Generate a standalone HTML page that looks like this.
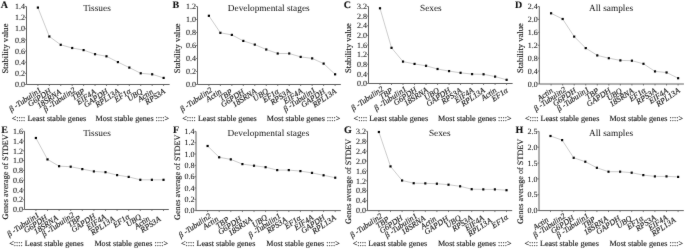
<!DOCTYPE html>
<html><head><meta charset="utf-8"><style>
html,body{margin:0;padding:0;background:#fff;}
svg{display:block;}
#w{width:685px;height:249px;will-change:transform;}
text{text-rendering:geometricPrecision;font-family:"Liberation Serif", serif;fill:#111;stroke:#111;stroke-width:0.12px;}
</style></head><body>
<div id="w"><svg width="685" height="249" viewBox="0 0 685 249" xmlns="http://www.w3.org/2000/svg">
<defs><filter id="bl" x="0" y="0" width="100%" height="100%" filterUnits="userSpaceOnUse"><feConvolveMatrix order="3" kernelMatrix="0.01 0.05 0.01 0.05 0.76 0.05 0.01 0.05 0.01" edgeMode="duplicate" preserveAlpha="false"/></filter></defs>
<rect width="685" height="249" fill="#fff"/>
<g filter="url(#bl)">
<path d="M26.5,6.5V84.5H169.6" fill="none" stroke="#606060" stroke-width="1"/>
<path d="M24.9,84.50H26.5" stroke="#606060" stroke-width="0.8"/>
<text x="25.00" y="87.20" text-anchor="end" font-size="8.0" style="stroke-width:0.06px">0.0</text>
<path d="M24.9,73.36H26.5" stroke="#606060" stroke-width="0.8"/>
<text x="25.00" y="76.06" text-anchor="end" font-size="8.0" style="stroke-width:0.06px">0.2</text>
<path d="M24.9,62.21H26.5" stroke="#606060" stroke-width="0.8"/>
<text x="25.00" y="64.91" text-anchor="end" font-size="8.0" style="stroke-width:0.06px">0.4</text>
<path d="M24.9,51.07H26.5" stroke="#606060" stroke-width="0.8"/>
<text x="25.00" y="53.77" text-anchor="end" font-size="8.0" style="stroke-width:0.06px">0.6</text>
<path d="M24.9,39.93H26.5" stroke="#606060" stroke-width="0.8"/>
<text x="25.00" y="42.63" text-anchor="end" font-size="8.0" style="stroke-width:0.06px">0.8</text>
<path d="M24.9,28.79H26.5" stroke="#606060" stroke-width="0.8"/>
<text x="25.00" y="31.49" text-anchor="end" font-size="8.0" style="stroke-width:0.06px">1.0</text>
<path d="M24.9,17.64H26.5" stroke="#606060" stroke-width="0.8"/>
<text x="25.00" y="20.34" text-anchor="end" font-size="8.0" style="stroke-width:0.06px">1.2</text>
<path d="M24.9,6.50H26.5" stroke="#606060" stroke-width="0.8"/>
<text x="25.00" y="9.20" text-anchor="end" font-size="8.0" style="stroke-width:0.06px">1.4</text>
<path d="M37.90,84.5V86.0" stroke="#606060" stroke-width="0.8"/>
<path d="M49.33,84.5V86.0" stroke="#606060" stroke-width="0.8"/>
<path d="M60.75,84.5V86.0" stroke="#606060" stroke-width="0.8"/>
<path d="M72.18,84.5V86.0" stroke="#606060" stroke-width="0.8"/>
<path d="M83.61,84.5V86.0" stroke="#606060" stroke-width="0.8"/>
<path d="M95.04,84.5V86.0" stroke="#606060" stroke-width="0.8"/>
<path d="M106.46,84.5V86.0" stroke="#606060" stroke-width="0.8"/>
<path d="M117.89,84.5V86.0" stroke="#606060" stroke-width="0.8"/>
<path d="M129.32,84.5V86.0" stroke="#606060" stroke-width="0.8"/>
<path d="M140.75,84.5V86.0" stroke="#606060" stroke-width="0.8"/>
<path d="M152.17,84.5V86.0" stroke="#606060" stroke-width="0.8"/>
<path d="M163.60,84.5V86.0" stroke="#606060" stroke-width="0.8"/>
<polyline points="37.90,7.6 49.33,36.5 60.75,44.8 72.18,48.0 83.61,50.1 95.04,54.2 106.46,56.3 117.89,62.1 129.32,67.6 140.75,73.3 152.17,74.3 163.60,77.9" fill="none" stroke="#aaa" stroke-width="0.6"/>
<rect x="36.80" y="6.50" width="2.2" height="2.2" fill="#000"/>
<rect x="48.23" y="35.40" width="2.2" height="2.2" fill="#000"/>
<rect x="59.65" y="43.70" width="2.2" height="2.2" fill="#000"/>
<rect x="71.08" y="46.90" width="2.2" height="2.2" fill="#000"/>
<rect x="82.51" y="49.00" width="2.2" height="2.2" fill="#000"/>
<rect x="93.94" y="53.10" width="2.2" height="2.2" fill="#000"/>
<rect x="105.36" y="55.20" width="2.2" height="2.2" fill="#000"/>
<rect x="116.79" y="61.00" width="2.2" height="2.2" fill="#000"/>
<rect x="128.22" y="66.50" width="2.2" height="2.2" fill="#000"/>
<rect x="139.65" y="72.20" width="2.2" height="2.2" fill="#000"/>
<rect x="151.07" y="73.20" width="2.2" height="2.2" fill="#000"/>
<rect x="162.50" y="76.80" width="2.2" height="2.2" fill="#000"/>
<text x="41.92" y="91.24" text-anchor="end" font-style="italic" font-size="8.0" style="stroke-width:0.12px" transform="rotate(-34 41.92 91.24)">β -Tubulin1</text>
<text x="51.85" y="92.25" text-anchor="end" font-style="italic" font-size="8.0" style="stroke-width:0.12px" transform="rotate(-34 51.85 92.25)">G6PDH</text>
<text x="61.77" y="93.27" text-anchor="end" font-style="italic" font-size="8.0" style="stroke-width:0.12px" transform="rotate(-34 61.77 93.27)">18SRNA</text>
<text x="76.20" y="91.24" text-anchor="end" font-style="italic" font-size="8.0" style="stroke-width:0.12px" transform="rotate(-34 76.20 91.24)">β -Tubulin2</text>
<text x="85.66" y="92.57" text-anchor="end" font-style="italic" font-size="8.0" style="stroke-width:0.12px" transform="rotate(-34 85.66 92.57)">TBP</text>
<text x="96.46" y="92.99" text-anchor="end" font-style="italic" font-size="8.0" style="stroke-width:0.12px" transform="rotate(-34 96.46 92.99)">EIF4A</text>
<text x="108.51" y="92.57" text-anchor="end" font-style="italic" font-size="8.0" style="stroke-width:0.12px" transform="rotate(-34 108.51 92.57)">GAPDH</text>
<text x="119.94" y="92.57" text-anchor="end" font-style="italic" font-size="8.0" style="stroke-width:0.12px" transform="rotate(-34 119.94 92.57)">RPL13A</text>
<text x="131.48" y="92.50" text-anchor="end" font-style="italic" font-size="8.0" style="stroke-width:0.12px" transform="rotate(-34 131.48 92.50)">EF1α</text>
<text x="143.03" y="92.41" text-anchor="end" font-style="italic" font-size="8.0" style="stroke-width:0.12px" transform="rotate(-34 143.03 92.41)">UBQ</text>
<text x="153.71" y="92.91" text-anchor="end" font-style="italic" font-size="8.0" style="stroke-width:0.12px" transform="rotate(-34 153.71 92.91)">Actin</text>
<text x="165.88" y="92.41" text-anchor="end" font-style="italic" font-size="8.0" style="stroke-width:0.12px" transform="rotate(-34 165.88 92.41)">RPS3A</text>
<text x="83.2" y="10.6" font-size="9.3" style="stroke-width:0.0px">Tissues</text>
<text x="0.7" y="8.4" font-size="10" font-weight="bold">A</text>
<text x="8.4" y="48.5" text-anchor="middle" font-size="8.6" transform="rotate(-90 8.4 48.5)">Stability value</text>
<text x="11.8" y="120.9" font-size="8.1">&lt;:::: Least stable genes</text>
<text x="95.6" y="120.9" font-size="8.1">Most stable genes ::::&gt;</text>
<path d="M197.5,6.5V84.5H340.8" fill="none" stroke="#606060" stroke-width="1"/>
<path d="M195.9,84.50H197.5" stroke="#606060" stroke-width="0.8"/>
<text x="196.00" y="87.20" text-anchor="end" font-size="8.0" style="stroke-width:0.06px">0.0</text>
<path d="M195.9,71.50H197.5" stroke="#606060" stroke-width="0.8"/>
<text x="196.00" y="74.20" text-anchor="end" font-size="8.0" style="stroke-width:0.06px">0.2</text>
<path d="M195.9,58.50H197.5" stroke="#606060" stroke-width="0.8"/>
<text x="196.00" y="61.20" text-anchor="end" font-size="8.0" style="stroke-width:0.06px">0.4</text>
<path d="M195.9,45.50H197.5" stroke="#606060" stroke-width="0.8"/>
<text x="196.00" y="48.20" text-anchor="end" font-size="8.0" style="stroke-width:0.06px">0.6</text>
<path d="M195.9,32.50H197.5" stroke="#606060" stroke-width="0.8"/>
<text x="196.00" y="35.20" text-anchor="end" font-size="8.0" style="stroke-width:0.06px">0.8</text>
<path d="M195.9,19.50H197.5" stroke="#606060" stroke-width="0.8"/>
<text x="196.00" y="22.20" text-anchor="end" font-size="8.0" style="stroke-width:0.06px">1.0</text>
<path d="M195.9,6.50H197.5" stroke="#606060" stroke-width="0.8"/>
<text x="196.00" y="9.20" text-anchor="end" font-size="8.0" style="stroke-width:0.06px">1.2</text>
<path d="M208.90,84.5V86.0" stroke="#606060" stroke-width="0.8"/>
<path d="M220.37,84.5V86.0" stroke="#606060" stroke-width="0.8"/>
<path d="M231.85,84.5V86.0" stroke="#606060" stroke-width="0.8"/>
<path d="M243.32,84.5V86.0" stroke="#606060" stroke-width="0.8"/>
<path d="M254.79,84.5V86.0" stroke="#606060" stroke-width="0.8"/>
<path d="M266.26,84.5V86.0" stroke="#606060" stroke-width="0.8"/>
<path d="M277.74,84.5V86.0" stroke="#606060" stroke-width="0.8"/>
<path d="M289.21,84.5V86.0" stroke="#606060" stroke-width="0.8"/>
<path d="M300.68,84.5V86.0" stroke="#606060" stroke-width="0.8"/>
<path d="M312.15,84.5V86.0" stroke="#606060" stroke-width="0.8"/>
<path d="M323.63,84.5V86.0" stroke="#606060" stroke-width="0.8"/>
<path d="M335.10,84.5V86.0" stroke="#606060" stroke-width="0.8"/>
<polyline points="208.90,15.8 220.37,32.8 231.85,34.9 243.32,40.9 254.79,44.6 266.26,49.5 277.74,53.5 289.21,53.5 300.68,56.9 312.15,58.4 323.63,63.6 335.10,74.3" fill="none" stroke="#aaa" stroke-width="0.6"/>
<rect x="207.80" y="14.70" width="2.2" height="2.2" fill="#000"/>
<rect x="219.27" y="31.70" width="2.2" height="2.2" fill="#000"/>
<rect x="230.75" y="33.80" width="2.2" height="2.2" fill="#000"/>
<rect x="242.22" y="39.80" width="2.2" height="2.2" fill="#000"/>
<rect x="253.69" y="43.50" width="2.2" height="2.2" fill="#000"/>
<rect x="265.16" y="48.40" width="2.2" height="2.2" fill="#000"/>
<rect x="276.64" y="52.40" width="2.2" height="2.2" fill="#000"/>
<rect x="288.11" y="52.40" width="2.2" height="2.2" fill="#000"/>
<rect x="299.58" y="55.80" width="2.2" height="2.2" fill="#000"/>
<rect x="311.05" y="57.30" width="2.2" height="2.2" fill="#000"/>
<rect x="322.53" y="62.50" width="2.2" height="2.2" fill="#000"/>
<rect x="334.00" y="73.20" width="2.2" height="2.2" fill="#000"/>
<text x="212.92" y="91.24" text-anchor="end" font-style="italic" font-size="8.0" style="stroke-width:0.12px" transform="rotate(-34 212.92 91.24)">β -Tubulin2</text>
<text x="222.14" y="92.76" text-anchor="end" font-style="italic" font-size="8.0" style="stroke-width:0.12px" transform="rotate(-34 222.14 92.76)">Actin</text>
<text x="233.15" y="93.07" text-anchor="end" font-style="italic" font-size="8.0" style="stroke-width:0.12px" transform="rotate(-34 233.15 93.07)">TBP</text>
<text x="244.86" y="92.91" text-anchor="end" font-style="italic" font-size="8.0" style="stroke-width:0.12px" transform="rotate(-34 244.86 92.91)">G6PDH</text>
<text x="257.07" y="92.41" text-anchor="end" font-style="italic" font-size="8.0" style="stroke-width:0.12px" transform="rotate(-34 257.07 92.41)">18SRNA</text>
<text x="268.78" y="92.26" text-anchor="end" font-style="italic" font-size="8.0" style="stroke-width:0.12px" transform="rotate(-34 268.78 92.26)">UBQ</text>
<text x="279.55" y="92.73" text-anchor="end" font-style="italic" font-size="8.0" style="stroke-width:0.12px" transform="rotate(-34 279.55 92.73)">EF1α</text>
<text x="291.26" y="92.57" text-anchor="end" font-style="italic" font-size="8.0" style="stroke-width:0.12px" transform="rotate(-34 291.26 92.57)">RPS3A</text>
<text x="303.19" y="92.26" text-anchor="end" font-style="italic" font-size="8.0" style="stroke-width:0.12px" transform="rotate(-34 303.19 92.26)">EIF4A</text>
<text x="316.18" y="91.24" text-anchor="end" font-style="italic" font-size="8.0" style="stroke-width:0.12px" transform="rotate(-34 316.18 91.24)">β -Tubulin1</text>
<text x="325.68" y="92.57" text-anchor="end" font-style="italic" font-size="8.0" style="stroke-width:0.12px" transform="rotate(-34 325.68 92.57)">GAPDH</text>
<text x="337.15" y="92.57" text-anchor="end" font-style="italic" font-size="8.0" style="stroke-width:0.12px" transform="rotate(-34 337.15 92.57)">RPL13A</text>
<text x="227.8" y="10.6" font-size="9.3" style="stroke-width:0.0px">Developmental stages</text>
<text x="172.6" y="8.4" font-size="10" font-weight="bold">B</text>
<text x="180.0" y="48.4" text-anchor="middle" font-size="8.6" transform="rotate(-90 180.0 48.4)">Stability value</text>
<text x="182.3" y="120.9" font-size="8.1">&lt;:::: Least stable genes</text>
<text x="266.8" y="120.9" font-size="8.1">Most stable genes ::::&gt;</text>
<path d="M368.5,6.5V83.5H512.6" fill="none" stroke="#606060" stroke-width="1"/>
<path d="M366.9,83.50H368.5" stroke="#606060" stroke-width="0.8"/>
<text x="367.00" y="86.20" text-anchor="end" font-size="8.0" style="stroke-width:0.06px">0.0</text>
<path d="M366.9,73.88H368.5" stroke="#606060" stroke-width="0.8"/>
<text x="367.00" y="76.58" text-anchor="end" font-size="8.0" style="stroke-width:0.06px">0.4</text>
<path d="M366.9,64.25H368.5" stroke="#606060" stroke-width="0.8"/>
<text x="367.00" y="66.95" text-anchor="end" font-size="8.0" style="stroke-width:0.06px">0.8</text>
<path d="M366.9,54.62H368.5" stroke="#606060" stroke-width="0.8"/>
<text x="367.00" y="57.33" text-anchor="end" font-size="8.0" style="stroke-width:0.06px">1.2</text>
<path d="M366.9,45.00H368.5" stroke="#606060" stroke-width="0.8"/>
<text x="367.00" y="47.70" text-anchor="end" font-size="8.0" style="stroke-width:0.06px">1.6</text>
<path d="M366.9,35.38H368.5" stroke="#606060" stroke-width="0.8"/>
<text x="367.00" y="38.08" text-anchor="end" font-size="8.0" style="stroke-width:0.06px">2.0</text>
<path d="M366.9,25.75H368.5" stroke="#606060" stroke-width="0.8"/>
<text x="367.00" y="28.45" text-anchor="end" font-size="8.0" style="stroke-width:0.06px">2.4</text>
<path d="M366.9,16.12H368.5" stroke="#606060" stroke-width="0.8"/>
<text x="367.00" y="18.82" text-anchor="end" font-size="8.0" style="stroke-width:0.06px">2.8</text>
<path d="M366.9,6.50H368.5" stroke="#606060" stroke-width="0.8"/>
<text x="367.00" y="9.20" text-anchor="end" font-size="8.0" style="stroke-width:0.06px">3.2</text>
<path d="M380.00,83.5V85.0" stroke="#606060" stroke-width="0.8"/>
<path d="M391.51,83.5V85.0" stroke="#606060" stroke-width="0.8"/>
<path d="M403.02,83.5V85.0" stroke="#606060" stroke-width="0.8"/>
<path d="M414.53,83.5V85.0" stroke="#606060" stroke-width="0.8"/>
<path d="M426.04,83.5V85.0" stroke="#606060" stroke-width="0.8"/>
<path d="M437.55,83.5V85.0" stroke="#606060" stroke-width="0.8"/>
<path d="M449.05,83.5V85.0" stroke="#606060" stroke-width="0.8"/>
<path d="M460.56,83.5V85.0" stroke="#606060" stroke-width="0.8"/>
<path d="M472.07,83.5V85.0" stroke="#606060" stroke-width="0.8"/>
<path d="M483.58,83.5V85.0" stroke="#606060" stroke-width="0.8"/>
<path d="M495.09,83.5V85.0" stroke="#606060" stroke-width="0.8"/>
<path d="M506.60,83.5V85.0" stroke="#606060" stroke-width="0.8"/>
<polyline points="380.00,8.3 391.51,47.8 403.02,61.6 414.53,63.9 426.04,65.8 437.55,69.0 449.05,71.1 460.56,72.8 472.07,74.1 483.58,74.3 495.09,76.6 506.60,79.8" fill="none" stroke="#aaa" stroke-width="0.6"/>
<rect x="378.90" y="7.20" width="2.2" height="2.2" fill="#000"/>
<rect x="390.41" y="46.70" width="2.2" height="2.2" fill="#000"/>
<rect x="401.92" y="60.50" width="2.2" height="2.2" fill="#000"/>
<rect x="413.43" y="62.80" width="2.2" height="2.2" fill="#000"/>
<rect x="424.94" y="64.70" width="2.2" height="2.2" fill="#000"/>
<rect x="436.45" y="67.90" width="2.2" height="2.2" fill="#000"/>
<rect x="447.95" y="70.00" width="2.2" height="2.2" fill="#000"/>
<rect x="459.46" y="71.70" width="2.2" height="2.2" fill="#000"/>
<rect x="470.97" y="73.00" width="2.2" height="2.2" fill="#000"/>
<rect x="482.48" y="73.20" width="2.2" height="2.2" fill="#000"/>
<rect x="493.99" y="75.50" width="2.2" height="2.2" fill="#000"/>
<rect x="505.50" y="78.70" width="2.2" height="2.2" fill="#000"/>
<text x="384.02" y="90.24" text-anchor="end" font-style="italic" font-size="8.0" style="stroke-width:0.12px" transform="rotate(-34 384.02 90.24)">β -Tubulin2</text>
<text x="393.28" y="91.76" text-anchor="end" font-style="italic" font-size="8.0" style="stroke-width:0.12px" transform="rotate(-34 393.28 91.76)">TBP</text>
<text x="407.04" y="90.24" text-anchor="end" font-style="italic" font-size="8.0" style="stroke-width:0.12px" transform="rotate(-34 407.04 90.24)">β -Tubulin1</text>
<text x="417.38" y="91.03" text-anchor="end" font-style="italic" font-size="8.0" style="stroke-width:0.12px" transform="rotate(-34 417.38 91.03)">G6PDH</text>
<text x="428.66" y="91.18" text-anchor="end" font-style="italic" font-size="8.0" style="stroke-width:0.12px" transform="rotate(-34 428.66 91.18)">18SRNA</text>
<text x="439.83" y="91.41" text-anchor="end" font-style="italic" font-size="8.0" style="stroke-width:0.12px" transform="rotate(-34 439.83 91.41)">UBQ</text>
<text x="451.06" y="91.60" text-anchor="end" font-style="italic" font-size="8.0" style="stroke-width:0.12px" transform="rotate(-34 451.06 91.60)">GAPDH</text>
<text x="462.27" y="91.80" text-anchor="end" font-style="italic" font-size="8.0" style="stroke-width:0.12px" transform="rotate(-34 462.27 91.80)">RPS3A</text>
<text x="474.35" y="91.41" text-anchor="end" font-style="italic" font-size="8.0" style="stroke-width:0.12px" transform="rotate(-34 474.35 91.41)">EIF4A</text>
<text x="485.63" y="91.57" text-anchor="end" font-style="italic" font-size="8.0" style="stroke-width:0.12px" transform="rotate(-34 485.63 91.57)">RPL13A</text>
<text x="497.20" y="91.53" text-anchor="end" font-style="italic" font-size="8.0" style="stroke-width:0.12px" transform="rotate(-34 497.20 91.53)">Actin</text>
<text x="508.55" y="91.64" text-anchor="end" font-style="italic" font-size="8.0" style="stroke-width:0.12px" transform="rotate(-34 508.55 91.64)">EF1α</text>
<text x="420.0" y="10.6" font-size="9.3" style="stroke-width:0.0px">Sexes</text>
<text x="343.7" y="8.4" font-size="10" font-weight="bold">C</text>
<text x="351.4" y="48.0" text-anchor="middle" font-size="8.6" transform="rotate(-90 351.4 48.0)">Stability value</text>
<text x="353.6" y="120.9" font-size="8.1">&lt;:::: Least stable genes</text>
<text x="438.1" y="120.9" font-size="8.1">Most stable genes ::::&gt;</text>
<path d="M539.3,6.5V84.0H683.9" fill="none" stroke="#606060" stroke-width="1"/>
<path d="M537.6999999999999,84.00H539.3" stroke="#606060" stroke-width="0.8"/>
<text x="537.80" y="86.70" text-anchor="end" font-size="8.0" style="stroke-width:0.06px">0.0</text>
<path d="M537.6999999999999,71.08H539.3" stroke="#606060" stroke-width="0.8"/>
<text x="537.80" y="73.78" text-anchor="end" font-size="8.0" style="stroke-width:0.06px">0.4</text>
<path d="M537.6999999999999,58.17H539.3" stroke="#606060" stroke-width="0.8"/>
<text x="537.80" y="60.87" text-anchor="end" font-size="8.0" style="stroke-width:0.06px">0.8</text>
<path d="M537.6999999999999,45.25H539.3" stroke="#606060" stroke-width="0.8"/>
<text x="537.80" y="47.95" text-anchor="end" font-size="8.0" style="stroke-width:0.06px">1.2</text>
<path d="M537.6999999999999,32.33H539.3" stroke="#606060" stroke-width="0.8"/>
<text x="537.80" y="35.03" text-anchor="end" font-size="8.0" style="stroke-width:0.06px">1.6</text>
<path d="M537.6999999999999,19.42H539.3" stroke="#606060" stroke-width="0.8"/>
<text x="537.80" y="22.12" text-anchor="end" font-size="8.0" style="stroke-width:0.06px">2.0</text>
<path d="M537.6999999999999,6.50H539.3" stroke="#606060" stroke-width="0.8"/>
<text x="537.80" y="9.20" text-anchor="end" font-size="8.0" style="stroke-width:0.06px">2.4</text>
<path d="M551.10,84.0V85.5" stroke="#606060" stroke-width="0.8"/>
<path d="M562.65,84.0V85.5" stroke="#606060" stroke-width="0.8"/>
<path d="M574.19,84.0V85.5" stroke="#606060" stroke-width="0.8"/>
<path d="M585.74,84.0V85.5" stroke="#606060" stroke-width="0.8"/>
<path d="M597.28,84.0V85.5" stroke="#606060" stroke-width="0.8"/>
<path d="M608.83,84.0V85.5" stroke="#606060" stroke-width="0.8"/>
<path d="M620.37,84.0V85.5" stroke="#606060" stroke-width="0.8"/>
<path d="M631.92,84.0V85.5" stroke="#606060" stroke-width="0.8"/>
<path d="M643.46,84.0V85.5" stroke="#606060" stroke-width="0.8"/>
<path d="M655.01,84.0V85.5" stroke="#606060" stroke-width="0.8"/>
<path d="M666.55,84.0V85.5" stroke="#606060" stroke-width="0.8"/>
<path d="M678.10,84.0V85.5" stroke="#606060" stroke-width="0.8"/>
<polyline points="551.10,13.3 562.65,19.0 574.19,36.6 585.74,48.1 597.28,55.4 608.83,58.2 620.37,60.4 631.92,60.7 643.46,63.8 655.01,71.4 666.55,72.5 678.10,78.2" fill="none" stroke="#aaa" stroke-width="0.6"/>
<rect x="550.00" y="12.20" width="2.2" height="2.2" fill="#000"/>
<rect x="561.55" y="17.90" width="2.2" height="2.2" fill="#000"/>
<rect x="573.09" y="35.50" width="2.2" height="2.2" fill="#000"/>
<rect x="584.64" y="47.00" width="2.2" height="2.2" fill="#000"/>
<rect x="596.18" y="54.30" width="2.2" height="2.2" fill="#000"/>
<rect x="607.73" y="57.10" width="2.2" height="2.2" fill="#000"/>
<rect x="619.27" y="59.30" width="2.2" height="2.2" fill="#000"/>
<rect x="630.82" y="59.60" width="2.2" height="2.2" fill="#000"/>
<rect x="642.36" y="62.70" width="2.2" height="2.2" fill="#000"/>
<rect x="653.91" y="70.30" width="2.2" height="2.2" fill="#000"/>
<rect x="665.45" y="71.40" width="2.2" height="2.2" fill="#000"/>
<rect x="677.00" y="77.10" width="2.2" height="2.2" fill="#000"/>
<text x="553.49" y="91.84" text-anchor="end" font-style="italic" font-size="8.0" style="stroke-width:0.12px" transform="rotate(-34 553.49 91.84)">Actin</text>
<text x="566.67" y="90.74" text-anchor="end" font-style="italic" font-size="8.0" style="stroke-width:0.12px" transform="rotate(-34 566.67 90.74)">β -Tubulin2</text>
<text x="576.70" y="91.76" text-anchor="end" font-style="italic" font-size="8.0" style="stroke-width:0.12px" transform="rotate(-34 576.70 91.76)">G6PDH</text>
<text x="589.76" y="90.74" text-anchor="end" font-style="italic" font-size="8.0" style="stroke-width:0.12px" transform="rotate(-34 589.76 90.74)">β -Tubulin1</text>
<text x="599.56" y="91.91" text-anchor="end" font-style="italic" font-size="8.0" style="stroke-width:0.12px" transform="rotate(-34 599.56 91.91)">TBP</text>
<text x="611.34" y="91.76" text-anchor="end" font-style="italic" font-size="8.0" style="stroke-width:0.12px" transform="rotate(-34 611.34 91.76)">GAPDH</text>
<text x="622.65" y="91.91" text-anchor="end" font-style="italic" font-size="8.0" style="stroke-width:0.12px" transform="rotate(-34 622.65 91.91)">UBQ</text>
<text x="634.20" y="91.91" text-anchor="end" font-style="italic" font-size="8.0" style="stroke-width:0.12px" transform="rotate(-34 634.20 91.91)">18SRNA</text>
<text x="646.20" y="91.61" text-anchor="end" font-style="italic" font-size="8.0" style="stroke-width:0.12px" transform="rotate(-34 646.20 91.61)">EF1α</text>
<text x="657.18" y="91.99" text-anchor="end" font-style="italic" font-size="8.0" style="stroke-width:0.12px" transform="rotate(-34 657.18 91.99)">RPS3A</text>
<text x="668.72" y="91.99" text-anchor="end" font-style="italic" font-size="8.0" style="stroke-width:0.12px" transform="rotate(-34 668.72 91.99)">EIF4A</text>
<text x="680.61" y="91.76" text-anchor="end" font-style="italic" font-size="8.0" style="stroke-width:0.12px" transform="rotate(-34 680.61 91.76)">RPL13A</text>
<text x="589.0" y="10.7" font-size="9.3" style="stroke-width:0.0px">All samples</text>
<text x="515.1" y="8.4" font-size="10" font-weight="bold">D</text>
<text x="522.8" y="48.1" text-anchor="middle" font-size="8.6" transform="rotate(-90 522.8 48.1)">Stability value</text>
<text x="524.9" y="120.9" font-size="8.1">&lt;:::: Least stable genes</text>
<text x="609.4" y="120.9" font-size="8.1">Most stable genes ::::&gt;</text>
<path d="M24.5,131.3V209.5H168.8" fill="none" stroke="#606060" stroke-width="1"/>
<path d="M22.9,209.50H24.5" stroke="#606060" stroke-width="0.8"/>
<text x="23.00" y="212.20" text-anchor="end" font-size="8.0" style="stroke-width:0.06px">0.0</text>
<path d="M22.9,199.72H24.5" stroke="#606060" stroke-width="0.8"/>
<text x="23.00" y="202.42" text-anchor="end" font-size="8.0" style="stroke-width:0.06px">0.2</text>
<path d="M22.9,189.95H24.5" stroke="#606060" stroke-width="0.8"/>
<text x="23.00" y="192.65" text-anchor="end" font-size="8.0" style="stroke-width:0.06px">0.4</text>
<path d="M22.9,180.18H24.5" stroke="#606060" stroke-width="0.8"/>
<text x="23.00" y="182.88" text-anchor="end" font-size="8.0" style="stroke-width:0.06px">0.6</text>
<path d="M22.9,170.40H24.5" stroke="#606060" stroke-width="0.8"/>
<text x="23.00" y="173.10" text-anchor="end" font-size="8.0" style="stroke-width:0.06px">0.8</text>
<path d="M22.9,160.62H24.5" stroke="#606060" stroke-width="0.8"/>
<text x="23.00" y="163.32" text-anchor="end" font-size="8.0" style="stroke-width:0.06px">1.0</text>
<path d="M22.9,150.85H24.5" stroke="#606060" stroke-width="0.8"/>
<text x="23.00" y="153.55" text-anchor="end" font-size="8.0" style="stroke-width:0.06px">1.2</text>
<path d="M22.9,141.08H24.5" stroke="#606060" stroke-width="0.8"/>
<text x="23.00" y="143.78" text-anchor="end" font-size="8.0" style="stroke-width:0.06px">1.4</text>
<path d="M22.9,131.30H24.5" stroke="#606060" stroke-width="0.8"/>
<text x="23.00" y="134.00" text-anchor="end" font-size="8.0" style="stroke-width:0.06px">1.6</text>
<path d="M35.90,209.5V211.0" stroke="#606060" stroke-width="0.8"/>
<path d="M47.50,209.5V211.0" stroke="#606060" stroke-width="0.8"/>
<path d="M59.10,209.5V211.0" stroke="#606060" stroke-width="0.8"/>
<path d="M70.70,209.5V211.0" stroke="#606060" stroke-width="0.8"/>
<path d="M82.30,209.5V211.0" stroke="#606060" stroke-width="0.8"/>
<path d="M93.90,209.5V211.0" stroke="#606060" stroke-width="0.8"/>
<path d="M105.50,209.5V211.0" stroke="#606060" stroke-width="0.8"/>
<path d="M117.10,209.5V211.0" stroke="#606060" stroke-width="0.8"/>
<path d="M128.70,209.5V211.0" stroke="#606060" stroke-width="0.8"/>
<path d="M140.30,209.5V211.0" stroke="#606060" stroke-width="0.8"/>
<path d="M151.90,209.5V211.0" stroke="#606060" stroke-width="0.8"/>
<path d="M163.50,209.5V211.0" stroke="#606060" stroke-width="0.8"/>
<polyline points="35.90,138.0 47.50,159.4 59.10,166.2 70.70,166.7 82.30,169.1 93.90,171.4 105.50,172.2 117.10,175.1 128.70,176.9 140.30,179.8 151.90,179.8 163.50,179.8" fill="none" stroke="#aaa" stroke-width="0.6"/>
<rect x="34.80" y="136.90" width="2.2" height="2.2" fill="#000"/>
<rect x="46.40" y="158.30" width="2.2" height="2.2" fill="#000"/>
<rect x="58.00" y="165.10" width="2.2" height="2.2" fill="#000"/>
<rect x="69.60" y="165.60" width="2.2" height="2.2" fill="#000"/>
<rect x="81.20" y="168.00" width="2.2" height="2.2" fill="#000"/>
<rect x="92.80" y="170.30" width="2.2" height="2.2" fill="#000"/>
<rect x="104.40" y="171.10" width="2.2" height="2.2" fill="#000"/>
<rect x="116.00" y="174.00" width="2.2" height="2.2" fill="#000"/>
<rect x="127.60" y="175.80" width="2.2" height="2.2" fill="#000"/>
<rect x="139.20" y="178.70" width="2.2" height="2.2" fill="#000"/>
<rect x="150.80" y="178.70" width="2.2" height="2.2" fill="#000"/>
<rect x="162.40" y="178.70" width="2.2" height="2.2" fill="#000"/>
<text x="39.92" y="216.24" text-anchor="end" font-style="italic" font-size="8.0" style="stroke-width:0.12px" transform="rotate(-34 39.92 216.24)">β -Tubulin1</text>
<text x="47.87" y="218.70" text-anchor="end" font-style="italic" font-size="8.0" style="stroke-width:0.12px" transform="rotate(-34 47.87 218.70)">G6PDH</text>
<text x="58.55" y="219.32" text-anchor="end" font-style="italic" font-size="8.0" style="stroke-width:0.12px" transform="rotate(-34 58.55 219.32)">18SRNA</text>
<text x="74.72" y="216.24" text-anchor="end" font-style="italic" font-size="8.0" style="stroke-width:0.12px" transform="rotate(-34 74.72 216.24)">β -Tubulin2</text>
<text x="81.59" y="219.43" text-anchor="end" font-style="italic" font-size="8.0" style="stroke-width:0.12px" transform="rotate(-34 81.59 219.43)">TBP</text>
<text x="95.95" y="217.57" text-anchor="end" font-style="italic" font-size="8.0" style="stroke-width:0.12px" transform="rotate(-34 95.95 217.57)">GAPDH</text>
<text x="106.51" y="218.27" text-anchor="end" font-style="italic" font-size="8.0" style="stroke-width:0.12px" transform="rotate(-34 106.51 218.27)">EIF4A</text>
<text x="115.19" y="220.24" text-anchor="end" font-style="italic" font-size="8.0" style="stroke-width:0.12px" transform="rotate(-34 115.19 220.24)">RPL13A</text>
<text x="130.13" y="217.99" text-anchor="end" font-style="italic" font-size="8.0" style="stroke-width:0.12px" transform="rotate(-34 130.13 217.99)">EF1α</text>
<text x="141.82" y="217.92" text-anchor="end" font-style="italic" font-size="8.0" style="stroke-width:0.12px" transform="rotate(-34 141.82 217.92)">UBQ</text>
<text x="150.45" y="219.93" text-anchor="end" font-style="italic" font-size="8.0" style="stroke-width:0.12px" transform="rotate(-34 150.45 219.93)">Actin</text>
<text x="161.41" y="220.36" text-anchor="end" font-style="italic" font-size="8.0" style="stroke-width:0.12px" transform="rotate(-34 161.41 220.36)">RPS3A</text>
<text x="83.2" y="135.6" font-size="9.3" style="stroke-width:0.0px">Tissues</text>
<text x="1.2" y="132.7" font-size="10" font-weight="bold">E</text>
<text x="8.0" y="176.9" text-anchor="middle" font-size="8.2" transform="rotate(-90 8.0 176.9)">Genes average of STDEV</text>
<text x="9.2" y="245.9" font-size="8.1">&lt;:::: Least stable genes</text>
<text x="94.4" y="245.9" font-size="8.1">Most stable genes ::::&gt;</text>
<path d="M196.0,131.4V210.6H340.9" fill="none" stroke="#606060" stroke-width="1"/>
<path d="M194.4,210.60H196.0" stroke="#606060" stroke-width="0.8"/>
<text x="194.50" y="213.30" text-anchor="end" font-size="8.0" style="stroke-width:0.06px">0.0</text>
<path d="M194.4,199.29H196.0" stroke="#606060" stroke-width="0.8"/>
<text x="194.50" y="201.99" text-anchor="end" font-size="8.0" style="stroke-width:0.06px">0.2</text>
<path d="M194.4,187.97H196.0" stroke="#606060" stroke-width="0.8"/>
<text x="194.50" y="190.67" text-anchor="end" font-size="8.0" style="stroke-width:0.06px">0.4</text>
<path d="M194.4,176.66H196.0" stroke="#606060" stroke-width="0.8"/>
<text x="194.50" y="179.36" text-anchor="end" font-size="8.0" style="stroke-width:0.06px">0.6</text>
<path d="M194.4,165.34H196.0" stroke="#606060" stroke-width="0.8"/>
<text x="194.50" y="168.04" text-anchor="end" font-size="8.0" style="stroke-width:0.06px">0.8</text>
<path d="M194.4,154.03H196.0" stroke="#606060" stroke-width="0.8"/>
<text x="194.50" y="156.73" text-anchor="end" font-size="8.0" style="stroke-width:0.06px">1.0</text>
<path d="M194.4,142.71H196.0" stroke="#606060" stroke-width="0.8"/>
<text x="194.50" y="145.41" text-anchor="end" font-size="8.0" style="stroke-width:0.06px">1.2</text>
<path d="M194.4,131.40H196.0" stroke="#606060" stroke-width="0.8"/>
<text x="194.50" y="134.10" text-anchor="end" font-size="8.0" style="stroke-width:0.06px">1.4</text>
<path d="M207.60,210.6V212.1" stroke="#606060" stroke-width="0.8"/>
<path d="M219.20,210.6V212.1" stroke="#606060" stroke-width="0.8"/>
<path d="M230.80,210.6V212.1" stroke="#606060" stroke-width="0.8"/>
<path d="M242.40,210.6V212.1" stroke="#606060" stroke-width="0.8"/>
<path d="M254.00,210.6V212.1" stroke="#606060" stroke-width="0.8"/>
<path d="M265.60,210.6V212.1" stroke="#606060" stroke-width="0.8"/>
<path d="M277.20,210.6V212.1" stroke="#606060" stroke-width="0.8"/>
<path d="M288.80,210.6V212.1" stroke="#606060" stroke-width="0.8"/>
<path d="M300.40,210.6V212.1" stroke="#606060" stroke-width="0.8"/>
<path d="M312.00,210.6V212.1" stroke="#606060" stroke-width="0.8"/>
<path d="M323.60,210.6V212.1" stroke="#606060" stroke-width="0.8"/>
<path d="M335.20,210.6V212.1" stroke="#606060" stroke-width="0.8"/>
<polyline points="207.60,146.0 219.20,157.3 230.80,159.4 242.40,164.1 254.00,165.7 265.60,167.2 277.20,170.1 288.80,170.1 300.40,171.1 312.00,172.9 323.60,175.3 335.20,177.7" fill="none" stroke="#aaa" stroke-width="0.6"/>
<rect x="206.50" y="144.90" width="2.2" height="2.2" fill="#000"/>
<rect x="218.10" y="156.20" width="2.2" height="2.2" fill="#000"/>
<rect x="229.70" y="158.30" width="2.2" height="2.2" fill="#000"/>
<rect x="241.30" y="163.00" width="2.2" height="2.2" fill="#000"/>
<rect x="252.90" y="164.60" width="2.2" height="2.2" fill="#000"/>
<rect x="264.50" y="166.10" width="2.2" height="2.2" fill="#000"/>
<rect x="276.10" y="169.00" width="2.2" height="2.2" fill="#000"/>
<rect x="287.70" y="169.00" width="2.2" height="2.2" fill="#000"/>
<rect x="299.30" y="170.00" width="2.2" height="2.2" fill="#000"/>
<rect x="310.90" y="171.80" width="2.2" height="2.2" fill="#000"/>
<rect x="322.50" y="174.20" width="2.2" height="2.2" fill="#000"/>
<rect x="334.10" y="176.60" width="2.2" height="2.2" fill="#000"/>
<text x="211.62" y="217.34" text-anchor="end" font-style="italic" font-size="8.0" style="stroke-width:0.12px" transform="rotate(-34 211.62 217.34)">β -Tubulin2</text>
<text x="219.00" y="220.19" text-anchor="end" font-style="italic" font-size="8.0" style="stroke-width:0.12px" transform="rotate(-34 219.00 220.19)">Actin</text>
<text x="229.74" y="220.76" text-anchor="end" font-style="italic" font-size="8.0" style="stroke-width:0.12px" transform="rotate(-34 229.74 220.76)">TBP</text>
<text x="242.03" y="220.30" text-anchor="end" font-style="italic" font-size="8.0" style="stroke-width:0.12px" transform="rotate(-34 242.03 220.30)">G6PDH</text>
<text x="252.87" y="220.81" text-anchor="end" font-style="italic" font-size="8.0" style="stroke-width:0.12px" transform="rotate(-34 252.87 220.81)">18SRNA</text>
<text x="267.88" y="218.51" text-anchor="end" font-style="italic" font-size="8.0" style="stroke-width:0.12px" transform="rotate(-34 267.88 218.51)">UBQ</text>
<text x="281.22" y="217.34" text-anchor="end" font-style="italic" font-size="8.0" style="stroke-width:0.12px" transform="rotate(-34 281.22 217.34)">β -Tubulin1</text>
<text x="287.47" y="220.95" text-anchor="end" font-style="italic" font-size="8.0" style="stroke-width:0.12px" transform="rotate(-34 287.47 220.95)">RPS3A</text>
<text x="301.59" y="219.25" text-anchor="end" font-style="italic" font-size="8.0" style="stroke-width:0.12px" transform="rotate(-34 301.59 219.25)">EF1α</text>
<text x="314.05" y="218.67" text-anchor="end" font-style="italic" font-size="8.0" style="stroke-width:0.12px" transform="rotate(-34 314.05 218.67)">EIF4A</text>
<text x="325.65" y="218.67" text-anchor="end" font-style="italic" font-size="8.0" style="stroke-width:0.12px" transform="rotate(-34 325.65 218.67)">GAPDH</text>
<text x="336.63" y="219.09" text-anchor="end" font-style="italic" font-size="8.0" style="stroke-width:0.12px" transform="rotate(-34 336.63 219.09)">RPL13A</text>
<text x="227.5" y="135.6" font-size="9.3" style="stroke-width:0.0px">Developmental stages</text>
<text x="172.9" y="132.7" font-size="10" font-weight="bold">F</text>
<text x="180.0" y="177.3" text-anchor="middle" font-size="8.2" transform="rotate(-90 180.0 177.3)">Genes average of STDEV</text>
<text x="180.9" y="245.9" font-size="8.1">&lt;:::: Least stable genes</text>
<text x="266.2" y="245.9" font-size="8.1">Most stable genes ::::&gt;</text>
<path d="M367.5,131.3V210.6H512.2" fill="none" stroke="#606060" stroke-width="1"/>
<path d="M365.9,210.60H367.5" stroke="#606060" stroke-width="0.8"/>
<text x="366.00" y="213.30" text-anchor="end" font-size="8.0" style="stroke-width:0.06px">0.0</text>
<path d="M365.9,200.69H367.5" stroke="#606060" stroke-width="0.8"/>
<text x="366.00" y="203.39" text-anchor="end" font-size="8.0" style="stroke-width:0.06px">0.4</text>
<path d="M365.9,190.78H367.5" stroke="#606060" stroke-width="0.8"/>
<text x="366.00" y="193.47" text-anchor="end" font-size="8.0" style="stroke-width:0.06px">0.8</text>
<path d="M365.9,180.86H367.5" stroke="#606060" stroke-width="0.8"/>
<text x="366.00" y="183.56" text-anchor="end" font-size="8.0" style="stroke-width:0.06px">1.2</text>
<path d="M365.9,170.95H367.5" stroke="#606060" stroke-width="0.8"/>
<text x="366.00" y="173.65" text-anchor="end" font-size="8.0" style="stroke-width:0.06px">1.6</text>
<path d="M365.9,161.04H367.5" stroke="#606060" stroke-width="0.8"/>
<text x="366.00" y="163.74" text-anchor="end" font-size="8.0" style="stroke-width:0.06px">2.0</text>
<path d="M365.9,151.12H367.5" stroke="#606060" stroke-width="0.8"/>
<text x="366.00" y="153.82" text-anchor="end" font-size="8.0" style="stroke-width:0.06px">2.4</text>
<path d="M365.9,141.21H367.5" stroke="#606060" stroke-width="0.8"/>
<text x="366.00" y="143.91" text-anchor="end" font-size="8.0" style="stroke-width:0.06px">2.8</text>
<path d="M365.9,131.30H367.5" stroke="#606060" stroke-width="0.8"/>
<text x="366.00" y="134.00" text-anchor="end" font-size="8.0" style="stroke-width:0.06px">3.2</text>
<path d="M378.90,210.6V212.1" stroke="#606060" stroke-width="0.8"/>
<path d="M390.50,210.6V212.1" stroke="#606060" stroke-width="0.8"/>
<path d="M402.10,210.6V212.1" stroke="#606060" stroke-width="0.8"/>
<path d="M413.70,210.6V212.1" stroke="#606060" stroke-width="0.8"/>
<path d="M425.30,210.6V212.1" stroke="#606060" stroke-width="0.8"/>
<path d="M436.90,210.6V212.1" stroke="#606060" stroke-width="0.8"/>
<path d="M448.50,210.6V212.1" stroke="#606060" stroke-width="0.8"/>
<path d="M460.10,210.6V212.1" stroke="#606060" stroke-width="0.8"/>
<path d="M471.70,210.6V212.1" stroke="#606060" stroke-width="0.8"/>
<path d="M483.30,210.6V212.1" stroke="#606060" stroke-width="0.8"/>
<path d="M494.90,210.6V212.1" stroke="#606060" stroke-width="0.8"/>
<path d="M506.50,210.6V212.1" stroke="#606060" stroke-width="0.8"/>
<polyline points="378.90,132.0 390.50,166.4 402.10,180.5 413.70,183.2 425.30,183.4 436.90,183.7 448.50,184.7 460.10,186.3 471.70,189.2 483.30,189.4 494.90,189.4 506.50,190.2" fill="none" stroke="#aaa" stroke-width="0.6"/>
<rect x="377.80" y="130.90" width="2.2" height="2.2" fill="#000"/>
<rect x="389.40" y="165.30" width="2.2" height="2.2" fill="#000"/>
<rect x="401.00" y="179.40" width="2.2" height="2.2" fill="#000"/>
<rect x="412.60" y="182.10" width="2.2" height="2.2" fill="#000"/>
<rect x="424.20" y="182.30" width="2.2" height="2.2" fill="#000"/>
<rect x="435.80" y="182.60" width="2.2" height="2.2" fill="#000"/>
<rect x="447.40" y="183.60" width="2.2" height="2.2" fill="#000"/>
<rect x="459.00" y="185.20" width="2.2" height="2.2" fill="#000"/>
<rect x="470.60" y="188.10" width="2.2" height="2.2" fill="#000"/>
<rect x="482.20" y="188.30" width="2.2" height="2.2" fill="#000"/>
<rect x="493.80" y="188.30" width="2.2" height="2.2" fill="#000"/>
<rect x="505.40" y="189.10" width="2.2" height="2.2" fill="#000"/>
<text x="382.92" y="217.34" text-anchor="end" font-style="italic" font-size="8.0" style="stroke-width:0.12px" transform="rotate(-34 382.92 217.34)">β -Tubulin2</text>
<text x="389.79" y="220.53" text-anchor="end" font-style="italic" font-size="8.0" style="stroke-width:0.12px" transform="rotate(-34 389.79 220.53)">TBP</text>
<text x="403.41" y="219.17" text-anchor="end" font-style="italic" font-size="8.0" style="stroke-width:0.12px" transform="rotate(-34 403.41 219.17)">G6PDH</text>
<text x="417.72" y="217.34" text-anchor="end" font-style="italic" font-size="8.0" style="stroke-width:0.12px" transform="rotate(-34 417.72 217.34)">β -Tubulin1</text>
<text x="426.03" y="219.56" text-anchor="end" font-style="italic" font-size="8.0" style="stroke-width:0.12px" transform="rotate(-34 426.03 219.56)">18SRNA</text>
<text x="436.87" y="220.07" text-anchor="end" font-style="italic" font-size="8.0" style="stroke-width:0.12px" transform="rotate(-34 436.87 220.07)">Actin</text>
<text x="448.94" y="219.76" text-anchor="end" font-style="italic" font-size="8.0" style="stroke-width:0.12px" transform="rotate(-34 448.94 219.76)">GAPDH</text>
<text x="461.46" y="219.13" text-anchor="end" font-style="italic" font-size="8.0" style="stroke-width:0.12px" transform="rotate(-34 461.46 219.13)">UBQ</text>
<text x="472.99" y="219.18" text-anchor="end" font-style="italic" font-size="8.0" style="stroke-width:0.12px" transform="rotate(-34 472.99 219.18)">RPS3A</text>
<text x="484.59" y="219.18" text-anchor="end" font-style="italic" font-size="8.0" style="stroke-width:0.12px" transform="rotate(-34 484.59 219.18)">EIF4A</text>
<text x="492.46" y="221.70" text-anchor="end" font-style="italic" font-size="8.0" style="stroke-width:0.12px" transform="rotate(-34 492.46 221.70)">RPL13A</text>
<text x="508.79" y="218.50" text-anchor="end" font-style="italic" font-size="8.0" style="stroke-width:0.12px" transform="rotate(-34 508.79 218.50)">EF1α</text>
<text x="428.9" y="135.6" font-size="9.3" style="stroke-width:0.0px">Sexes</text>
<text x="344.0" y="132.7" font-size="10" font-weight="bold">G</text>
<text x="351.4" y="181.4" text-anchor="middle" font-size="8.2" transform="rotate(-90 351.4 181.4)">Genes average of STDEV</text>
<text x="352.7" y="245.9" font-size="8.1">&lt;:::: Least stable genes</text>
<text x="437.9" y="245.9" font-size="8.1">Most stable genes ::::&gt;</text>
<path d="M539.0,131.4V210.6H683.8" fill="none" stroke="#606060" stroke-width="1"/>
<path d="M537.4,210.60H539.0" stroke="#606060" stroke-width="0.8"/>
<text x="537.50" y="213.30" text-anchor="end" font-size="8.0" style="stroke-width:0.06px">0.0</text>
<path d="M537.4,194.76H539.0" stroke="#606060" stroke-width="0.8"/>
<text x="537.50" y="197.46" text-anchor="end" font-size="8.0" style="stroke-width:0.06px">0.5</text>
<path d="M537.4,178.92H539.0" stroke="#606060" stroke-width="0.8"/>
<text x="537.50" y="181.62" text-anchor="end" font-size="8.0" style="stroke-width:0.06px">1.0</text>
<path d="M537.4,163.08H539.0" stroke="#606060" stroke-width="0.8"/>
<text x="537.50" y="165.78" text-anchor="end" font-size="8.0" style="stroke-width:0.06px">1.5</text>
<path d="M537.4,147.24H539.0" stroke="#606060" stroke-width="0.8"/>
<text x="537.50" y="149.94" text-anchor="end" font-size="8.0" style="stroke-width:0.06px">2.0</text>
<path d="M537.4,131.40H539.0" stroke="#606060" stroke-width="0.8"/>
<text x="537.50" y="134.10" text-anchor="end" font-size="8.0" style="stroke-width:0.06px">2.5</text>
<path d="M550.50,210.6V212.1" stroke="#606060" stroke-width="0.8"/>
<path d="M562.10,210.6V212.1" stroke="#606060" stroke-width="0.8"/>
<path d="M573.70,210.6V212.1" stroke="#606060" stroke-width="0.8"/>
<path d="M585.30,210.6V212.1" stroke="#606060" stroke-width="0.8"/>
<path d="M596.90,210.6V212.1" stroke="#606060" stroke-width="0.8"/>
<path d="M608.50,210.6V212.1" stroke="#606060" stroke-width="0.8"/>
<path d="M620.10,210.6V212.1" stroke="#606060" stroke-width="0.8"/>
<path d="M631.70,210.6V212.1" stroke="#606060" stroke-width="0.8"/>
<path d="M643.30,210.6V212.1" stroke="#606060" stroke-width="0.8"/>
<path d="M654.90,210.6V212.1" stroke="#606060" stroke-width="0.8"/>
<path d="M666.50,210.6V212.1" stroke="#606060" stroke-width="0.8"/>
<path d="M678.10,210.6V212.1" stroke="#606060" stroke-width="0.8"/>
<polyline points="550.50,136.0 562.10,140.1 573.70,157.8 585.30,161.7 596.90,167.8 608.50,171.7 620.10,171.7 631.70,172.7 643.30,175.1 654.90,176.4 666.50,176.4 678.10,176.9" fill="none" stroke="#aaa" stroke-width="0.6"/>
<rect x="549.40" y="134.90" width="2.2" height="2.2" fill="#000"/>
<rect x="561.00" y="139.00" width="2.2" height="2.2" fill="#000"/>
<rect x="572.60" y="156.70" width="2.2" height="2.2" fill="#000"/>
<rect x="584.20" y="160.60" width="2.2" height="2.2" fill="#000"/>
<rect x="595.80" y="166.70" width="2.2" height="2.2" fill="#000"/>
<rect x="607.40" y="170.60" width="2.2" height="2.2" fill="#000"/>
<rect x="619.00" y="170.60" width="2.2" height="2.2" fill="#000"/>
<rect x="630.60" y="171.60" width="2.2" height="2.2" fill="#000"/>
<rect x="642.20" y="174.00" width="2.2" height="2.2" fill="#000"/>
<rect x="653.80" y="175.30" width="2.2" height="2.2" fill="#000"/>
<rect x="665.40" y="175.30" width="2.2" height="2.2" fill="#000"/>
<rect x="677.00" y="175.80" width="2.2" height="2.2" fill="#000"/>
<text x="549.21" y="220.92" text-anchor="end" font-style="italic" font-size="8.0" style="stroke-width:0.12px" transform="rotate(-34 549.21 220.92)">Actin</text>
<text x="566.12" y="217.34" text-anchor="end" font-style="italic" font-size="8.0" style="stroke-width:0.12px" transform="rotate(-34 566.12 217.34)">β -Tubulin2</text>
<text x="574.77" y="219.33" text-anchor="end" font-style="italic" font-size="8.0" style="stroke-width:0.12px" transform="rotate(-34 574.77 219.33)">G6PDH</text>
<text x="589.32" y="217.34" text-anchor="end" font-style="italic" font-size="8.0" style="stroke-width:0.12px" transform="rotate(-34 589.32 217.34)">β -Tubulin1</text>
<text x="596.19" y="220.53" text-anchor="end" font-style="italic" font-size="8.0" style="stroke-width:0.12px" transform="rotate(-34 596.19 220.53)">TBP</text>
<text x="608.47" y="220.07" text-anchor="end" font-style="italic" font-size="8.0" style="stroke-width:0.12px" transform="rotate(-34 608.47 220.07)">18SRNA</text>
<text x="620.84" y="219.55" text-anchor="end" font-style="italic" font-size="8.0" style="stroke-width:0.12px" transform="rotate(-34 620.84 219.55)">GAPDH</text>
<text x="632.42" y="219.57" text-anchor="end" font-style="italic" font-size="8.0" style="stroke-width:0.12px" transform="rotate(-34 632.42 219.57)">UBQ</text>
<text x="643.92" y="219.63" text-anchor="end" font-style="italic" font-size="8.0" style="stroke-width:0.12px" transform="rotate(-34 643.92 219.63)">EF1α</text>
<text x="656.60" y="218.90" text-anchor="end" font-style="italic" font-size="8.0" style="stroke-width:0.12px" transform="rotate(-34 656.60 218.90)">RPS3A</text>
<text x="668.20" y="218.90" text-anchor="end" font-style="italic" font-size="8.0" style="stroke-width:0.12px" transform="rotate(-34 668.20 218.90)">EIF4A</text>
<text x="676.30" y="221.26" text-anchor="end" font-style="italic" font-size="8.0" style="stroke-width:0.12px" transform="rotate(-34 676.30 221.26)">RPL13A</text>
<text x="589.0" y="135.7" font-size="9.3" style="stroke-width:0.0px">All samples</text>
<text x="515.4" y="132.7" font-size="10" font-weight="bold">H</text>
<text x="522.8" y="181.4" text-anchor="middle" font-size="8.2" transform="rotate(-90 522.8 181.4)">Genes average of STDEV</text>
<text x="524.4" y="245.9" font-size="8.1">&lt;:::: Least stable genes</text>
<text x="609.4" y="245.9" font-size="8.1">Most stable genes ::::&gt;</text>
</g>
</svg></div>
</body></html>
